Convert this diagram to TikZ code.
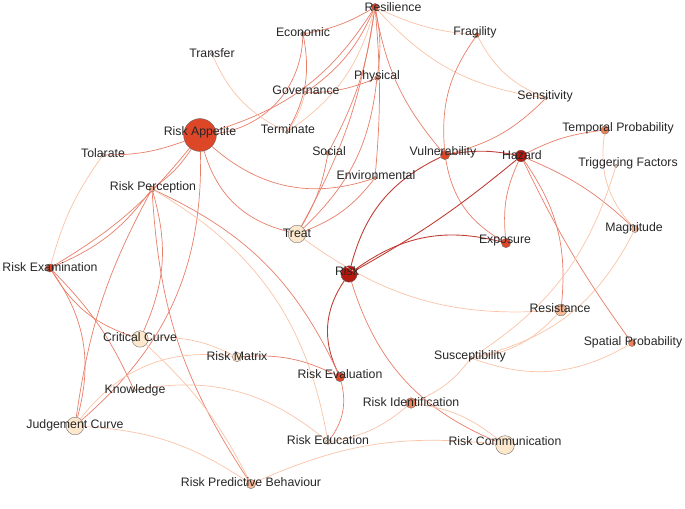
\documentclass[tikz,border=0pt]{standalone}
\usepackage{fontspec}
\setmainfont{Liberation Sans}
\usetikzlibrary{positioning}
\definecolor{cdark}{RGB}{180,25,15}
\definecolor{cred}{RGB}{222,70,40}
\definecolor{corange}{RGB}{240,130,90}
\definecolor{cpeach}{RGB}{248,185,150}
\definecolor{ccream}{RGB}{253,232,205}
\tikzstyle{dot} = [circle, draw=black!60, line width=0.3pt, inner sep=0pt]
\tikzstyle{lbl} = [font=\fontsize{10.5}{11}\selectfont, text=black!85, inner sep=0pt]
\tikzstyle{strong} = [draw=cdark!85, line width=0.75pt]
\tikzstyle{mid} = [draw=cred!70, line width=0.6pt]
\tikzstyle{weak} = [draw=cpeach!85, line width=0.6pt]
\begin{document}
\begin{tikzpicture}[x=0.03cm, y=-0.03cm]
    \useasboundingbox (0,0) rectangle (685,508);
    % nodes: name/x/y/size/fill
    \foreach \n/\x/\y/\s/\c in {
        resil/375/7/6/cred, econ/303/34/4/corange, frag/477/35/4/corange,
        transf/212/54/3/cpeach, phys/377/78/4/corange, gov/305/93/3/cpeach,
        sens/546/98/3/cpeach, appet/200/135/28/cred, term/287/132/3/ccream,
        temp/605/130/7/corange, vuln/445/155/8/cred, hazard/521/156/10/cdark,
        social/328/153/4/corange, tol/103/155/3/cpeach, trig/616/166/3/cpeach,
        percep/152/189/5/cpeach, envir/375/178/3/corange, treat/297/234/15/ccream,
        magn/635/229/6/cpeach, expos/506/243/8/cred, exam/50/268/7/cred,
        risk/349/274/14/cdark, resist/561/310/10/cpeach, spat/632/343/6/corange,
        crit/140/339/14/ccream, matrix/237/357/8/ccream, suscep/471/358/3/cpeach,
        know/134/390/3/ccream, evalu/340/377/8/cred, ident/411/403/9/corange,
        judge/75/426/15/ccream, educ/328/442/4/ccream, comm/505/445/16/ccream,
        predict/251/484/8/cpeach}
        \node[dot, fill=\c, minimum size=\s pt] (\n) at (\x,\y) {};
    % edges
    \foreach \a/\b/\st/\bend in {
        resil/econ/mid/10, resil/frag/weak/-10, resil/phys/mid/10, resil/social/mid/10,
        resil/envir/mid/5, resil/vuln/mid/-15, resil/gov/mid/15, resil/sens/weak/-20,
        resil/treat/mid/10, resil/term/weak/20, resil/appet/mid/20,
        econ/appet/mid/40, econ/term/mid/20, transf/term/weak/-20,
        phys/gov/mid/10, phys/treat/mid/20, gov/term/weak/10,
        appet/envir/mid/-30, appet/treat/mid/-30, appet/tol/mid/10,
        appet/percep/mid/10, appet/exam/mid/10, appet/judge/mid/25,
        social/treat/mid/10, envir/treat/mid/15, treat/resist/weak/-20,
        frag/vuln/mid/-20, frag/sens/weak/-20, sens/vuln/mid/15,
        vuln/hazard/strong/10, vuln/risk/strong/-25, vuln/expos/mid/-25,
        hazard/temp/mid/10, hazard/magn/mid/10, hazard/risk/strong/5,
        hazard/expos/mid/-15, hazard/resist/mid/20, hazard/spat/mid/-5,
        risk/expos/strong/25, risk/evalu/strong/-30, risk/comm/mid/-25,
        temp/magn/weak/-25, trig/suscep/weak/20, magn/suscep/weak/25,
        resist/suscep/weak/20, suscep/spat/weak/-25, suscep/ident/weak/15,
        ident/educ/weak/15, ident/comm/weak/15, comm/predict/weak/-15,
        percep/exam/mid/15, percep/crit/mid/20, percep/evalu/mid/20,
        percep/educ/weak/25, percep/predict/mid/-15, percep/judge/mid/-10,
        tol/exam/weak/-10, exam/crit/mid/-20, exam/know/mid/10, exam/judge/mid/25,
        crit/matrix/weak/15, crit/predict/weak/10, matrix/evalu/mid/15,
        matrix/judge/weak/-30, know/educ/weak/25, evalu/educ/mid/25,
        judge/predict/weak/15}
        \draw[\st] (\a) to[bend left=\bend] (\b);
    % labels
    \foreach \n/\x/\y/\t in {
        resil/393/7/Resilience, econ/303/32/Economic, frag/475/32/Fragility,
        transf/212/53/Transfer, phys/377/76/Physical, gov/306/90/Governance,
        sens/545/96/Sensitivity, appet/200/132/Risk Appetite, term/288/129/Terminate,
        temp/618/128/Temporal Probability, vuln/443/152/Vulnerability, hazard/522/155/Hazard,
        social/329/151/Social, tol/103/153/Tolarate, trig/628/163/Triggering Factors,
        percep/153/187/Risk Perception, envir/376/175/Environmental, treat/297/233/Treat,
        magn/634/228/Magnitude, expos/505/241/Exposure, exam/50/267/Risk Examination,
        risk/347/271/Risk, resist/560/308/Resistance, spat/633/342/Spatial Probability,
        crit/140/337/Critical Curve, matrix/237/356/Risk Matrix, suscep/470/356/Susceptibility,
        know/135/390/Knowledge, evalu/340/374/Risk Evaluation, ident/411/402/Risk Identification,
        judge/75/425/Judgement Curve, educ/328/440/Risk Education, comm/505/441/Risk Communication,
        predict/251/482/Risk Predictive Behaviour}
        \node[lbl] (\n-lbl) at (\x,\y) {\t};
\end{tikzpicture}
\end{document}
